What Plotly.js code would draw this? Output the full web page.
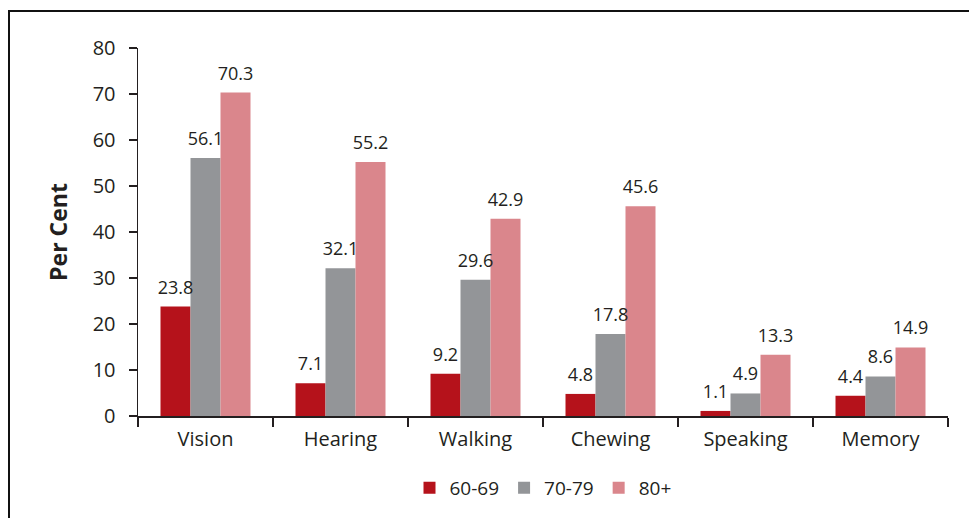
<!DOCTYPE html>
<html>
<head>
<meta charset="utf-8">
<script src="https://cdn.plot.ly/plotly-3.0.1.min.js"></script>
<style>
  html, body { margin: 0; padding: 0; background: #fff; }
  #frame { position: absolute; left: 8px; top: 10px; width: 980px; height: 540px;
           border-left: 2px solid #111; border-top: 2px solid #111; box-sizing: border-box; }
  #chart { position: absolute; left: 0; top: 0; width: 969px; height: 518px; }
</style>
</head>
<body>
<div id="frame"></div>
<div id="chart"></div>
<script>
const categories = ["Vision", "Hearing", "Walking", "Chewing", "Speaking", "Memory"];
const seriesNames = ["60-69", "70-79", "80+"];
const age6069 = [23.8, 7.1, 9.2, 4.8, 1.1, 4.4];
const age7079 = [56.1, 32.1, 29.6, 17.8, 4.9, 8.6];
const age80plus = [70.3, 55.2, 42.9, 45.6, 13.3, 14.9];
const yTicks = [0, 10, 20, 30, 40, 50, 60, 70, 80];

const colors = ["#B5121B", "#939598", "#DA868C"];
const seriesValues = [age6069, age7079, age80plus];
const FONT = "Open Sans, Noto Sans, sans-serif";

const barTraces = seriesValues.map((vals, i) => ({
  type: "bar",
  name: seriesNames[i],
  x: categories,
  y: vals,
  marker: { color: colors[i], line: { width: 0 } },
  hoverinfo: "x+y+name"
}));

const labelTraces = seriesValues.map((vals, i) => ({
  type: "scatter",
  mode: "markers+text",
  name: seriesNames[i] + " labels",
  showlegend: false,
  x: categories,
  y: vals,
  marker: { size: 12, opacity: 0, color: colors[i] },
  text: vals.map(v => v.toFixed(1)),
  textposition: "top center",
  textfont: { family: FONT, size: 18, color: "#231F20" },
  cliponaxis: false,
  hoverinfo: "skip"
}));

const layout = {
  width: 969,
  height: 518,
  paper_bgcolor: "rgba(0,0,0,0)",
  plot_bgcolor: "rgba(0,0,0,0)",
  margin: { l: 138, r: 21, t: 48, b: 101 },
  barmode: "group",
  bargap: 0.3333,
  bargroupgap: 0,
  scattermode: "group",
  scattergap: 0.3333,
  font: { family: FONT, size: 20, color: "#231F20" },
  showlegend: true,
  legend: {
    orientation: "h",
    x: 0.5, xanchor: "center",
    y: -0.192, yanchor: "middle",
    font: { family: FONT, size: 19, color: "#231F20" },
    traceorder: "normal"
  },
  xaxis: {
    type: "category",
    showline: true, linecolor: "#231F20", linewidth: 1.5,
    ticks: "outside", tickson: "boundaries", ticklen: 9, tickwidth: 1.5, tickcolor: "#231F20",
    ticklabelstandoff: 4,
    tickfont: { family: FONT, size: 20, color: "#231F20" },
    showgrid: false, zeroline: false, fixedrange: true,
    automargin: false
  },
  yaxis: {
    range: [0, 80],
    tickvals: yTicks,
    ticktext: yTicks.map(String),
    showline: true, linecolor: "#231F20", linewidth: 1.5,
    ticks: "outside", ticklen: 8, tickwidth: 1.5, tickcolor: "#231F20",
    ticklabelstandoff: 9,
    tickfont: { family: FONT, size: 20, color: "#231F20" },
    showgrid: false, zeroline: false, fixedrange: true,
    automargin: false,
    title: { text: "<b>Per Cent</b>", font: { family: FONT, size: 23, color: "#231F20" }, standoff: 18 }
  }
};

Plotly.newPlot("chart", barTraces.concat(labelTraces), layout, { displayModeBar: false, staticPlot: true });
</script>
</body>
</html>
